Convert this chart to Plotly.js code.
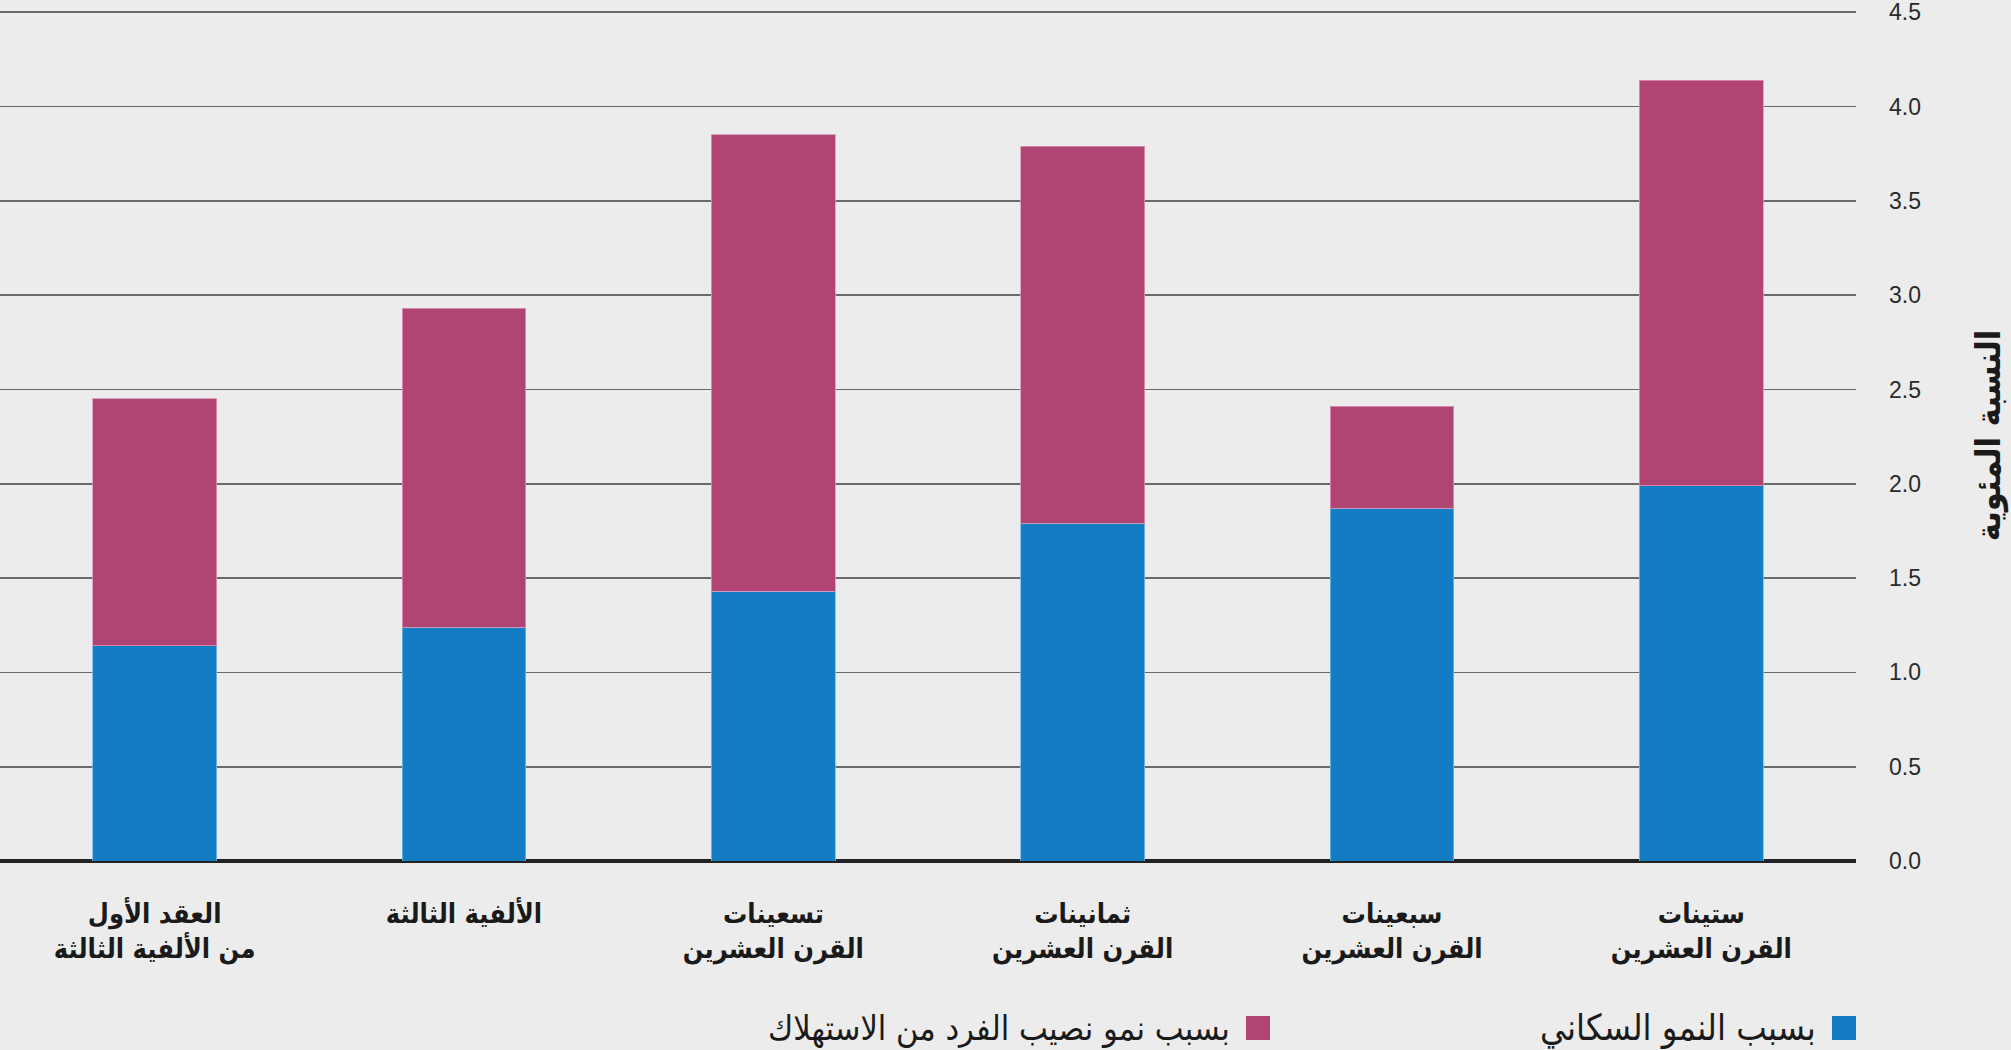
<!DOCTYPE html>
<html>
<head>
<meta charset="utf-8">
<script src="https://cdn.plot.ly/plotly-3.0.1.min.js"></script>
<style>
  html, body { margin: 0; padding: 0; background: #ececec; }
  #chart { width: 2011px; height: 1050px; }
</style>
</head>
<body>
<div id="chart"></div>
<script>
// Categories in reading order (right to left on the chart)
const categories = [
  "ستينات<br>القرن العشرين",
  "سبعينات<br>القرن العشرين",
  "ثمانينات<br>القرن العشرين",
  "تسعينات<br>القرن العشرين",
  "الألفية الثالثة<br> ",
  "العقد الأول<br>من الألفية الثالثة"
];
const populationGrowth = [1.99, 1.87, 1.79, 1.43, 1.24, 1.14];
const consumptionGrowth = [2.15, 0.54, 2.00, 2.42, 1.69, 1.31];
const seriesNames = ["بسبب النمو السكاني", "بسبب نمو نصيب الفرد من الاستهلاك"];
const yTitle = "النسبة المئوية";
const yTicks = [0, 0.5, 1, 1.5, 2, 2.5, 3, 3.5, 4, 4.5];

const blue = "#127dc2";
const pink = "#b04574";
const arabicFont = "DejaVu Sans Condensed, DejaVu Sans, sans-serif";

const traces = [
  {
    type: "bar", x: categories, y: populationGrowth, name: seriesNames[0],
    marker: { color: blue, line: { color: "rgba(120,185,235,0.8)", width: 1 } },
    width: 0.4, hoverinfo: "y"
  },
  {
    type: "bar", x: categories, y: consumptionGrowth, name: seriesNames[1],
    marker: { color: pink, line: { color: "rgba(225,150,185,0.8)", width: 1 } },
    width: 0.4, hoverinfo: "y"
  }
];

const plotRight = 1856, plotTop = 10, plotBottom = 861;
const W = 2011, H = 1050;
const ph = plotBottom - plotTop;
function py(pix) { return (plotBottom - pix) / ph; }
function px(pix) { return pix / plotRight; }

const layout = {
  width: W, height: H,
  paper_bgcolor: "#ececec",
  plot_bgcolor: "#ececec",
  barmode: "stack",
  showlegend: false,
  margin: { l: 0, r: W - plotRight, t: plotTop, b: H - plotBottom, pad: 0 },
  xaxis: {
    type: "category",
    autorange: "reversed",
    showgrid: false,
    zeroline: false,
    showline: false,
    ticks: "",
    ticklabelstandoff: 34,
    tickfont: { family: arabicFont, size: 27, color: "#1a1a1a", weight: "bold" },
    fixedrange: true
  },
  yaxis: {
    side: "right",
    range: [0, 4.512],
    tickvals: yTicks,
    ticktext: yTicks.map(v => v.toFixed(1)),
    ticklabeloverflow: "allow",
    showgrid: true,
    gridcolor: "#6a6a6a",
    gridwidth: 1.6,
    zeroline: true,
    zerolinecolor: "#222222",
    zerolinewidth: 4,
    showline: false,
    ticks: "",
    ticklabelstandoff: 32,
    tickfont: { family: "Liberation Sans Narrow, Liberation Sans, Arial, sans-serif", size: 23, color: "#2a2a2a" },
    title: { text: yTitle, font: { family: arabicFont, size: 34, color: "#1a1a1a", weight: "bold" }, standoff: 56 },
    automargin: false,
    fixedrange: true
  },
  shapes: [
    { type: "rect", xref: "paper", yref: "paper", x0: px(1832), x1: px(1856), y0: py(1040), y1: py(1016), fillcolor: blue, line: { width: 0 } },
    { type: "rect", xref: "paper", yref: "paper", x0: px(1246), x1: px(1270), y0: py(1040), y1: py(1016), fillcolor: pink, line: { width: 0 } }
  ],
  annotations: [
    { xref: "paper", yref: "paper", x: px(1818), y: py(1028), xanchor: "right", yanchor: "middle", showarrow: false,
      text: seriesNames[0], font: { family: arabicFont, size: 36, color: "#1a1a1a" } },
    { xref: "paper", yref: "paper", x: px(1232), y: py(1028), xanchor: "right", yanchor: "middle", showarrow: false,
      text: seriesNames[1], font: { family: arabicFont, size: 34, color: "#1a1a1a" } }
  ]
};

Plotly.newPlot("chart", traces, layout, { displayModeBar: false, staticPlot: true });
</script>
</body>
</html>
